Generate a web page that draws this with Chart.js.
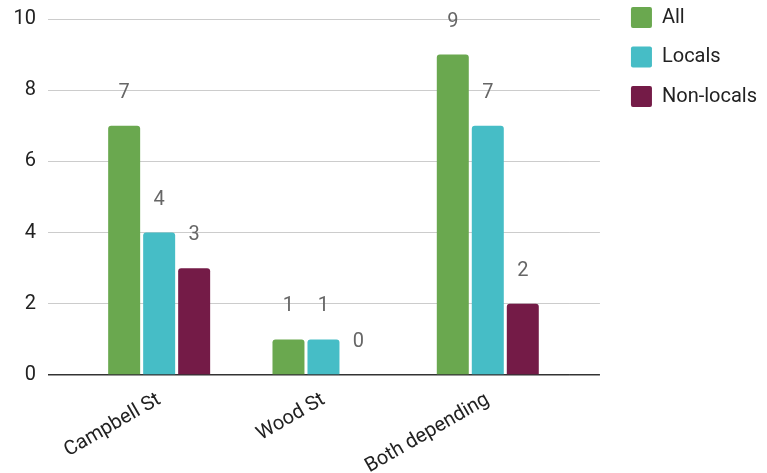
<!DOCTYPE html>
<html>
<head>
<meta charset="utf-8">
<script src="https://cdn.jsdelivr.net/npm/chart.js@4/dist/chart.umd.min.js"></script>
<style>
  html, body { margin: 0; padding: 0; background: #fff; }
  #wrap { width: 767px; height: 473px; position: relative; }
</style>
</head>
<body>
<div id="wrap"><canvas id="c"></canvas></div>
<script>
const categories = ['Campbell St', 'Wood St', 'Both depending'];
const seriesNames = ['All', 'Locals', 'Non-locals'];
const allValues = [7, 1, 9];
const localsValues = [4, 1, 7];
const nonLocalsValues = [3, 0, 2];
const yTickValues = [0, 2, 4, 6, 8, 10];
const seriesColors = ['#6aa84f', '#46bdc6', '#741b47'];

const FONT = 'Roboto';

const valueLabels = {
  id: 'valueLabels',
  afterDatasetsDraw(chart) {
    const ctx = chart.ctx;
    ctx.save();
    ctx.font = '20px ' + FONT;
    ctx.fillStyle = '#666666';
    ctx.textAlign = 'center';
    ctx.textBaseline = 'middle';
    chart.data.datasets.forEach((ds, di) => {
      const meta = chart.getDatasetMeta(di);
      meta.data.forEach((bar, i) => {
        ctx.fillText(String(ds.data[i]), bar.x, bar.y - 33);
      });
    });
    ctx.restore();
  }
};

const gridColor = c => (c.tick && c.tick.value === 0) ? '#333333' : '#cccccc';
const gridWidth = c => (c.tick && c.tick.value === 0) ? 1.5 : 1;

new Chart(document.getElementById('c'), {
  type: 'bar',
  data: {
    labels: categories,
    datasets: [
      { label: seriesNames[0], data: allValues, backgroundColor: seriesColors[0] },
      { label: seriesNames[1], data: localsValues, backgroundColor: seriesColors[1] },
      { label: seriesNames[2], data: nonLocalsValues, backgroundColor: seriesColors[2] }
    ].map(d => Object.assign(d, {
      borderWidth: 0,
      borderRadius: 3,
      borderSkipped: 'start',
      categoryPercentage: 0.639,
      barPercentage: 0.914
    }))
  },
  options: {
    responsive: true,
    maintainAspectRatio: false,
    animation: false,
    layout: { padding: { top: -11.5, right: 0, bottom: 0, left: 0 } },
    plugins: {
      title: { display: true, text: '', padding: { top: 20.5, bottom: 0 }, font: { size: 10, lineHeight: 1 } },
      legend: {
        position: 'right',
        align: 'start',
        maxWidth: 300,
        labels: {
          boxWidth: 21,
          boxHeight: 21,
          padding: 18.5,
          color: '#222222',
          font: { family: FONT, size: 20 },
          useBorderRadius: true,
          borderRadius: 2
        }
      },
      tooltip: { enabled: false }
    },
    scales: {
      x: {
        grid: { display: false },
        border: { display: false },
        ticks: {
          color: '#222222',
          font: { family: FONT, size: 20 },
          minRotation: 30,
          maxRotation: 30,
          padding: 5,
          autoSkip: false
        },
        afterFit: s => { s.height = 98; }
      },
      y: {
        min: 0,
        max: 10,
        afterBuildTicks: s => { s.ticks = yTickValues.map(v => ({ value: v })); },
        grid: { color: gridColor, lineWidth: gridWidth, tickLength: 29, drawTicks: true },
        border: { display: false },
        ticks: { color: '#222222', font: { family: FONT, size: 20 }, padding: 12 },
        afterFit: s => { s.width = 77; s.paddingTop = 0; s.paddingBottom = 0; }
      },
      y2: {
        position: 'right',
        min: 0,
        max: 10,
        afterBuildTicks: s => { s.ticks = yTickValues.map(v => ({ value: v })); },
        grid: { color: gridColor, lineWidth: gridWidth, tickLength: 30, drawTicks: true, drawOnChartArea: false },
        border: { display: false },
        ticks: { display: false },
        afterFit: s => { s.width = 42.5; s.paddingTop = 0; s.paddingBottom = 0; }
      }
    }
  },
  plugins: [valueLabels]
});
</script>
</body>
</html>
